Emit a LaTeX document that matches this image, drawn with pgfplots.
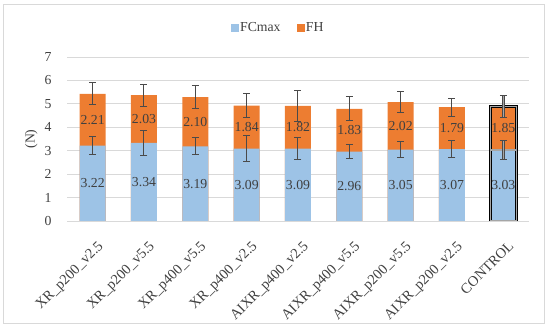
\documentclass[border=0pt]{standalone}
\usepackage{pgfplots}
\pgfplotsset{compat=1.18}
\usepackage{fontspec}
\setmainfont{Liberation Serif}
\definecolor{fcblue}{HTML}{9DC3E6}
\definecolor{fhorange}{HTML}{ED7D31}
\definecolor{gridgray}{HTML}{D9D9D9}
\definecolor{txtgray}{HTML}{404040}
\definecolor{errgray}{HTML}{4A4A4A}
\begin{document}
\begin{tikzpicture}
\useasboundingbox (0,0) rectangle (550bp,330bp);
\draw[gridgray, line width=1bp] (3bp,6bp) rectangle (544bp,325bp);
\begin{axis}[
  at={(67bp,109bp)}, anchor=south west,
  scale only axis, width=462bp, height=164bp,
  xmin=-0.5, xmax=8.5, ymin=0, ymax=7,
  ytick={0,1,...,7},
  xtick={0,...,8},
  xticklabels={XR\_p200\_v2.5,XR\_p200\_v5.5,XR\_p400\_v5.5,XR\_p400\_v2.5,AIXR\_p400\_v2.5,AIXR\_p400\_v5.5,AIXR\_p200\_v5.5,AIXR\_p200\_v2.5,CONTROL},
  xticklabel style={rotate=45, anchor=north east, font=\fontsize{14.5}{16}\selectfont, text=txtgray, yshift=-13bp, xshift=-7bp},
  yticklabel style={font=\fontsize{13.8}{15}\selectfont, text=txtgray, xshift=-12bp},
  /pgf/number format/assume math mode=true,
  major tick length=0pt,
  ymajorgrids, grid style={gridgray, line width=0.8bp},
  axis lines*=left,
  y axis line style={draw=none},
  x axis line style={gridgray, line width=0.8bp, -},
  ylabel={(N)}, ylabel style={at={(axis description cs:-0.056,0.5)}, font=\fontsize{13.8}{15}\selectfont, text=txtgray},
  legend style={at={(axis description cs:0.457,1.18)}, anchor=center, draw=none, fill=none, legend columns=2, font=\fontsize{13.8}{15}\selectfont, text=txtgray, /tikz/every even column/.append style={column sep=14bp}},
  error bars/error bar style={errgray, line width=1bp},
  error bars/error mark options={rotate=90, errgray, mark size=3.5bp, line width=1bp},
]
\addlegendimage{legend image code/.code={\fill[fcblue] (0bp,-3.5bp) rectangle (7bp,3.5bp);}}
\addlegendentry{FCmax}
\addlegendimage{legend image code/.code={\fill[fhorange] (0bp,-3.5bp) rectangle (7bp,3.5bp);}}
\addlegendentry{FH}
% totals (orange) with FH error bars
\addplot[ybar, bar width=26bp, bar shift=0pt, fill=fhorange, draw=none,
  error bars/.cd, y dir=both, y explicit] coordinates {
  (0,5.43) +- (0,0.47)
  (1,5.37) +- (0,0.47)
  (2,5.29) +- (0,0.50)
  (3,4.93) +- (0,0.52)
  (4,4.91) +- (0,0.66)
  (5,4.79) +- (0,0.52)
  (6,5.07) +- (0,0.44)
  (7,4.86) +- (0,0.39)
};
\addplot[ybar, bar width=26bp, bar shift=0pt, fill=fhorange, draw=black, line width=0.7bp, double=gray!70, double distance=1.4bp,
  error bars/.cd, y dir=both, y explicit] coordinates {
  (8,4.88) +- (0,0.46)
};
% FCmax (blue)
\addplot[ybar, bar width=26bp, bar shift=0pt, fill=fcblue, draw=none,
  error bars/.cd, y dir=both, y explicit] coordinates {
  (0,3.22) +- (0,0.40)
  (1,3.34) +- (0,0.54)
  (2,3.19) +- (0,0.37)
  (3,3.09) +- (0,0.56)
  (4,3.09) +- (0,0.48)
  (5,2.96) +- (0,0.30)
  (6,3.05) +- (0,0.36)
  (7,3.07) +- (0,0.36)
};
\addplot[ybar, bar width=26bp, bar shift=0pt, fill=fcblue, draw=black, line width=0.7bp, double=gray!70, double distance=1.4bp,
  error bars/.cd, y dir=both, y explicit] coordinates {
  (8,3.03) +- (0,0.40)
};
% data labels
\addplot[draw=none, mark=none, point meta=explicit symbolic,
  nodes near coords, nodes near coords align={center},
  every node near coord/.append style={font=\fontsize{13.8}{15}\selectfont, text=txtgray, anchor=center}]
  coordinates {
  (0,1.61)[3.22] (1,1.67)[3.34] (2,1.595)[3.19] (3,1.545)[3.09] (4,1.545)[3.09]
  (5,1.48)[2.96] (6,1.525)[3.05] (7,1.535)[3.07] (8,1.515)[3.03]
};
\addplot[draw=none, mark=none, point meta=explicit symbolic,
  nodes near coords, nodes near coords align={center},
  every node near coord/.append style={font=\fontsize{13.8}{15}\selectfont, text=txtgray, anchor=center}]
  coordinates {
  (0,4.325)[2.21] (1,4.355)[2.03] (2,4.24)[2.10] (3,4.01)[1.84] (4,4.0)[1.82]
  (5,3.875)[1.83] (6,4.06)[2.02] (7,3.965)[1.79] (8,3.955)[1.85]
};
\end{axis}
\end{tikzpicture}
\end{document}
